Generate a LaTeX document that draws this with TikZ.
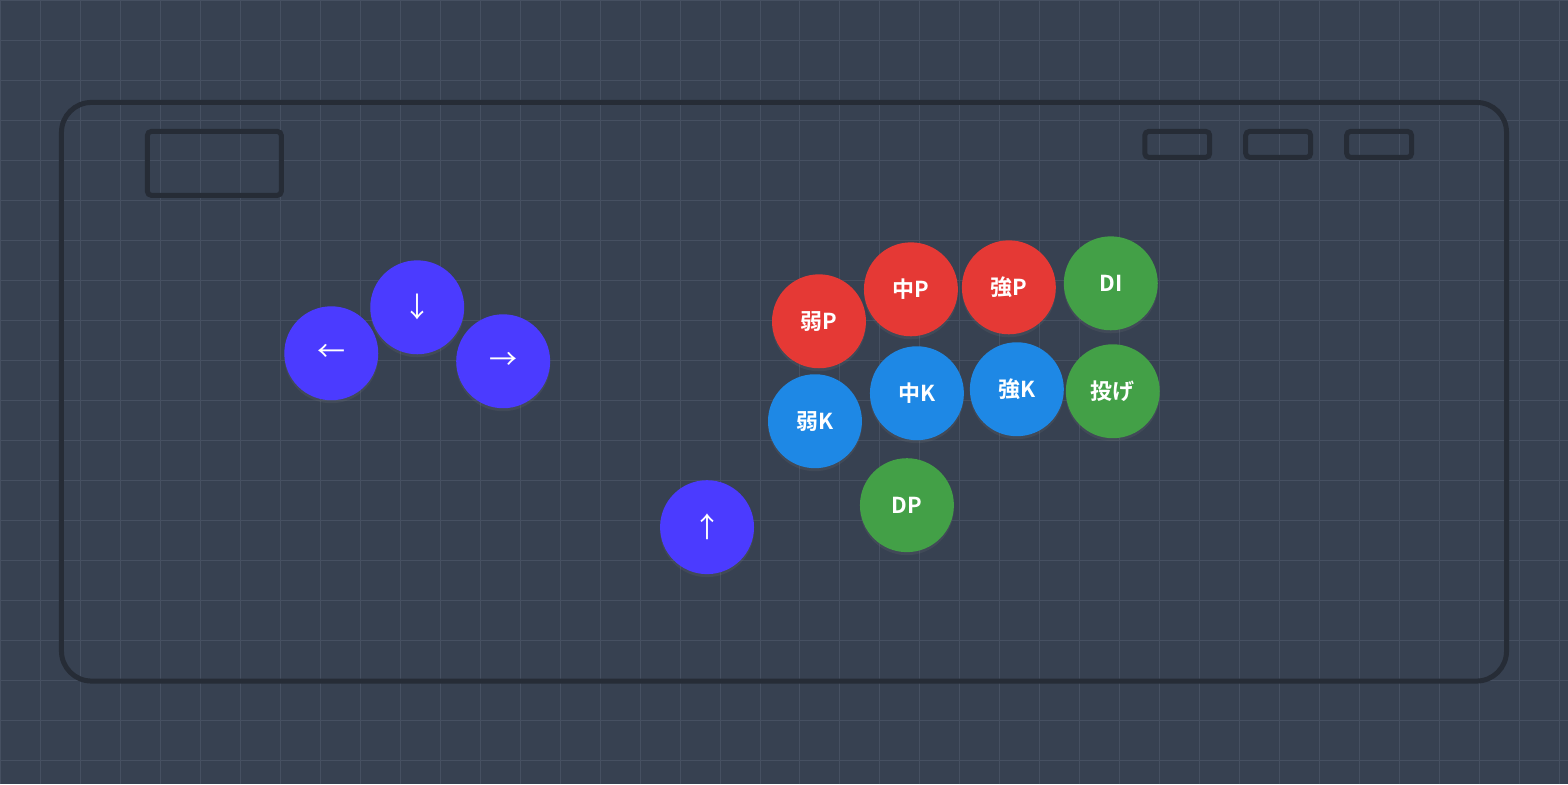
\documentclass[tikz,border=0pt]{standalone}
\usepackage{fontspec}
\setmainfont{Noto Sans CJK JP}[BoldFont={* Bold}]
\usetikzlibrary{positioning,shadows}
\definecolor{bg}{HTML}{374151}
\definecolor{gridc}{HTML}{465061}
\definecolor{frame}{HTML}{262C36}
\definecolor{dir}{HTML}{4B3BFF}
\definecolor{punch}{HTML}{E53935}
\definecolor{kick}{HTML}{1E88E5}
\definecolor{extra}{HTML}{43A047}
\tikzset{
  btn/.style={circle,minimum size=47pt,inner sep=0pt,text=white,font=\bfseries\fontsize{11}{11}\selectfont,
    drop shadow={shadow xshift=0pt,shadow yshift=-1.5pt,opacity=.15}},
  arr/.style={btn,fill=dir,font=\fontsize{14}{14}\selectfont},
  pb/.style={btn,fill=punch},
  kb/.style={btn,fill=kick},
  eb/.style={btn,fill=extra},
  panel/.style={draw=frame,line width=2.5pt}
}
\begin{document}
\begin{tikzpicture}[x=0.5pt,y=-0.5pt]
  \fill[bg] (0,0) rectangle (1568,784);
  \draw[gridc,line width=0.5pt] (0,0) grid[step=20pt] (1568,784);
  \useasboundingbox (0,0) rectangle (1568,784);
  % case
  \draw[panel,rounded corners=15pt] (61,102) rectangle (1507,681);
  \draw[panel,rounded corners=2pt] (147,131) rectangle (281,195);
  \draw[panel,rounded corners=2pt] (1145,131) rectangle (1210,157);
  \draw[panel,rounded corners=2pt] (1246,131) rectangle (1311,157);
  \draw[panel,rounded corners=2pt] (1347,131) rectangle (1412,157);
  % directions
  \node[arr] (left) at (331,353) {←};
  \node[arr] (down) at (417,307) {↓};
  \node[arr] (right) at (503,361) {→};
  \node[arr] (up) at (707,527) {↑};
  % attacks
  \node[pb] (lp) at (819,321) {弱P};
  \node[pb] (mp) at (911,289) {中P};
  \node[pb] (hp) at (1009,287) {強P};
  \node[eb] (di) at (1111,283) {DI};
  \node[kb] (lk) at (815,421) {弱K};
  \node[kb] (mk) at (917,393) {中K};
  \node[kb] (hk) at (1017,389) {強K};
  \node[eb] (throw) at (1113,391) {投げ};
  \node[eb] (dp) at (907,505) {DP};
\end{tikzpicture}
\end{document}
